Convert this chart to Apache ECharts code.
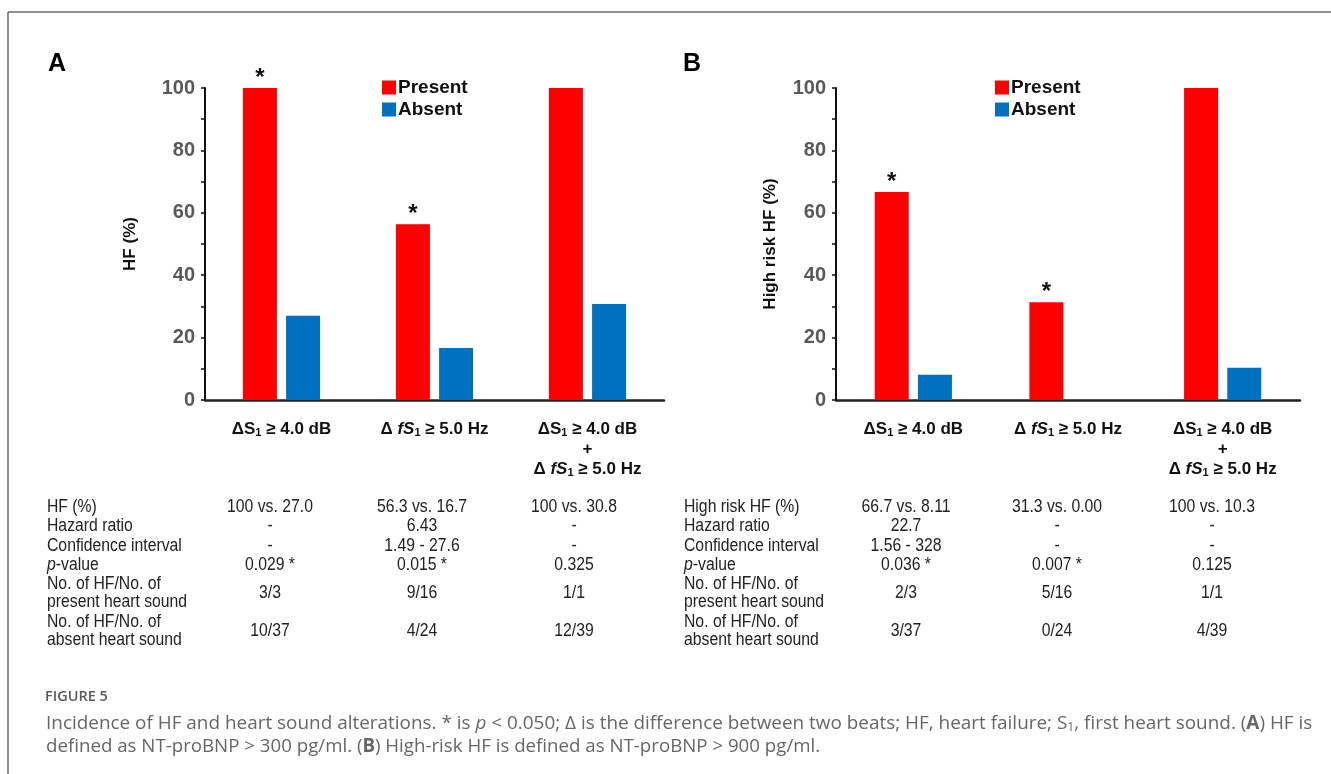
<!DOCTYPE html>
<html>
<head>
<meta charset="utf-8">
<script src="https://cdn.jsdelivr.net/npm/echarts@6/dist/echarts.min.js"></script>
<style>
html,body{margin:0;padding:0;background:#fff;}
#chart{width:1331px;height:774px;}
</style>
</head>
<body>
<div id="chart"></div>
<script>
// ---------- data ----------
var categories = [
  '{b|ΔS}{sub|1}{b| ≥ 4.0 dB}',
  '{b|Δ }{i|fS}{sub|1}{b| ≥ 5.0 Hz}',
  '{b|ΔS}{sub|1}{b| ≥ 4.0 dB}\n{b|+}\n{b|Δ }{i|fS}{sub|1}{b| ≥ 5.0 Hz}'
];
var presentA = [100, 56.3, 100];
var absentA  = [27.0, 16.7, 30.8];
var presentB = [66.7, 31.3, 100];
var absentB  = [8.11, 0.00, 10.3];
var sigA = ['*', '*', ''];
var sigB = ['*', '*', ''];
var yTicks = [0, 20, 40, 60, 80, 100];

var rowLabelsA = ['HF (%)', 'Hazard ratio', 'Confidence interval', '{i|p}-value', 'No. of HF/No. of\npresent heart sound', 'No. of HF/No. of\nabsent heart sound'];
var rowLabelsB = ['High risk HF (%)', 'Hazard ratio', 'Confidence interval', '{i|p}-value', 'No. of HF/No. of\npresent heart sound', 'No. of HF/No. of\nabsent heart sound'];
var tableA = [
  ['100 vs. 27.0', '-', '-', '0.029 *', '3/3', '10/37'],
  ['56.3 vs. 16.7', '6.43', '1.49 - 27.6', '0.015 *', '9/16', '4/24'],
  ['100 vs. 30.8', '-', '-', '0.325', '1/1', '12/39']
];
var tableB = [
  ['66.7 vs. 8.11', '22.7', '1.56 - 328', '0.036 *', '2/3', '3/37'],
  ['31.3 vs. 0.00', '-', '-', '0.007 *', '5/16', '0/24'],
  ['100 vs. 10.3', '-', '-', '0.125', '1/1', '4/39']
];
var captionHead = 'FIGURE 5';
var captionLine1 = 'Incidence of HF and heart sound alterations. * is {i|p} < 0.050; Δ is the difference between two beats; HF, heart failure; S{sub|1}, first heart sound. ({b|A}) HF is';
var captionLine2 = 'defined as NT-proBNP > 300 pg/ml. ({b|B}) High-risk HF is defined as NT-proBNP > 900 pg/ml.';

// ---------- styles ----------
var FONT = '"Liberation Sans", Arial, sans-serif';
var CAP = '"Open Sans", "Noto Sans", sans-serif';
var RED = '#ff0000', BLUE = '#0070c0';
var CAT_FS = 17;

var catRich = {
  b: {fontFamily: FONT, fontWeight: 'bold', fontSize: CAT_FS, color: '#111', lineHeight: 20},
  i: {fontFamily: FONT, fontWeight: 'bold', fontStyle: 'italic', fontSize: CAT_FS, color: '#111', lineHeight: 20},
  sub: {fontFamily: FONT, fontWeight: 'bold', fontSize: 11, color: '#111', lineHeight: 20, padding: [8, 0, 0, 0]}
};

function yAxisCfg(gridIndex, name, gap) {
  return {
    type: 'value', gridIndex: gridIndex, min: 0, max: 100, interval: 20,
    name: name, nameLocation: 'middle', nameRotate: 90, nameGap: gap,
    nameTextStyle: {fontFamily: FONT, fontWeight: 'bold', fontSize: 17, color: '#111'},
    axisLine: {show: true, lineStyle: {color: '#111', width: 2}},
    axisTick: {show: true, length: 4, lineStyle: {color: '#111', width: 1.5}},
    minorTick: {show: true, splitNumber: 2, length: 4, lineStyle: {color: '#111', width: 1.5}},
    splitLine: {show: false},
    axisLabel: {fontFamily: FONT, fontWeight: 'bold', fontSize: 20, color: '#595959', margin: 10,
      formatter: function (v) { return yTicks.indexOf(v) >= 0 ? String(v) : ''; }}
  };
}
function xAxisCfg(gridIndex) {
  return {
    type: 'category', gridIndex: gridIndex, data: categories,
    axisLine: {show: true, lineStyle: {color: '#222', width: 2.5}},
    axisTick: {show: false},
    axisLabel: {interval: 0, margin: 19, rich: catRich, lineHeight: 20, align: 'center'}
  };
}
function barSeries(name, data, color, xi, sig) {
  return {
    type: 'bar', name: name, data: data, xAxisIndex: xi, yAxisIndex: xi,
    barWidth: 34, barGap: '27%',
    itemStyle: {color: color},
    label: sig ? {show: true, position: 'top', distance: -2,
      fontFamily: FONT, fontWeight: 'bold', fontSize: 24, color: '#111',
      formatter: function (p) { return sig[p.dataIndex]; }} : {show: false},
    emphasis: {disabled: true}
  };
}

var graphics = [];
// frame
graphics.push({type: 'line', shape: {x1: 8, y1: 12, x2: 1331, y2: 12}, style: {stroke: '#6a6a6a', lineWidth: 1.5}, silent: true});
graphics.push({type: 'line', shape: {x1: 8, y1: 12, x2: 8, y2: 774}, style: {stroke: '#6a6a6a', lineWidth: 1.5}, silent: true});
// panel letters
graphics.push({type: 'text', left: 48, top: 52, style: {text: 'A', fontFamily: FONT, fontWeight: 'bold', fontSize: 25, fill: '#000'}});
graphics.push({type: 'text', left: 683, top: 52, style: {text: 'B', fontFamily: FONT, fontWeight: 'bold', fontSize: 25, fill: '#000'}});

// tables (condensed look via horizontal scaling)
var T_FS = 17.5, T_SX = 0.9;
var rowY = [507, 526, 546, 565, 593, 631.5];
var tRich = {i: {fontFamily: FONT, fontStyle: 'italic', fontSize: T_FS, fill: '#222'}};
function addTable(labels, cols, labelX, colX) {
  for (var r = 0; r < labels.length; r++) {
    graphics.push({type: 'text', x: labelX, y: rowY[r], scaleX: T_SX, style: {
      text: labels[r], fontFamily: FONT, fontSize: T_FS, fill: '#222', lineHeight: 18,
      verticalAlign: 'middle', align: 'left', rich: tRich}});
    for (var c = 0; c < cols.length; c++) {
      graphics.push({type: 'text', x: colX[c], y: rowY[r], scaleX: T_SX, style: {
        text: cols[c][r], fontFamily: FONT, fontSize: T_FS, fill: '#222',
        verticalAlign: 'middle', align: 'center'}});
    }
  }
}
addTable(rowLabelsA, tableA, 47, [270, 422, 574]);
addTable(rowLabelsB, tableB, 684, [906, 1057, 1212]);

// caption
var C_FS = 18.7;
var capRich = {
  i: {fontFamily: CAP, fontStyle: 'italic', fontSize: C_FS, fill: '#666'},
  b: {fontFamily: CAP, fontWeight: 'bold', fontSize: C_FS, fill: '#666'},
  sub: {fontFamily: CAP, fontSize: 12, fill: '#666', padding: [8, 0, 0, 0]}
};
graphics.push({type: 'text', x: 45, y: 697, style: {text: captionHead, fontFamily: CAP, fontWeight: 600, fontSize: 14.5, fill: '#5a5a5a', verticalAlign: 'middle'}});
graphics.push({type: 'text', x: 46, y: 724, scaleX: 1.012, style: {text: captionLine1, fontFamily: CAP, fontSize: C_FS, fill: '#666', verticalAlign: 'middle', rich: capRich}});
graphics.push({type: 'text', x: 46, y: 747, style: {text: captionLine2, fontFamily: CAP, fontSize: C_FS, fill: '#666', verticalAlign: 'middle', rich: capRich}});

var legendCfg = function (left) {
  return {
    data: ['Present', 'Absent'], orient: 'vertical', left: left, top: 73,
    icon: 'rect', itemWidth: 14, itemHeight: 14, itemGap: 3,
    textStyle: {fontFamily: FONT, fontWeight: 'bold', fontSize: 19, color: '#111', padding: [0, 0, 0, -3]},
    selectedMode: false
  };
};

var chart = echarts.init(document.getElementById('chart'), null, {renderer: 'canvas'});
chart.setOption({
  animation: false,
  backgroundColor: '#fff',
  grid: [
    {left: 205, top: 88, width: 459, height: 312},
    {left: 836, top: 88, width: 464, height: 312}
  ],
  legend: [legendCfg(377), legendCfg(990)],
  xAxis: [xAxisCfg(0), xAxisCfg(1)],
  yAxis: [yAxisCfg(0, 'HF (%)', 66), yAxisCfg(1, 'High risk HF (%)', 57)],
  series: [
    barSeries('Present', presentA, RED, 0, sigA),
    barSeries('Absent', absentA, BLUE, 0, null),
    barSeries('Present', presentB, RED, 1, sigB),
    barSeries('Absent', absentB, BLUE, 1, null)
  ],
  graphic: graphics
});
</script>
</body>
</html>
